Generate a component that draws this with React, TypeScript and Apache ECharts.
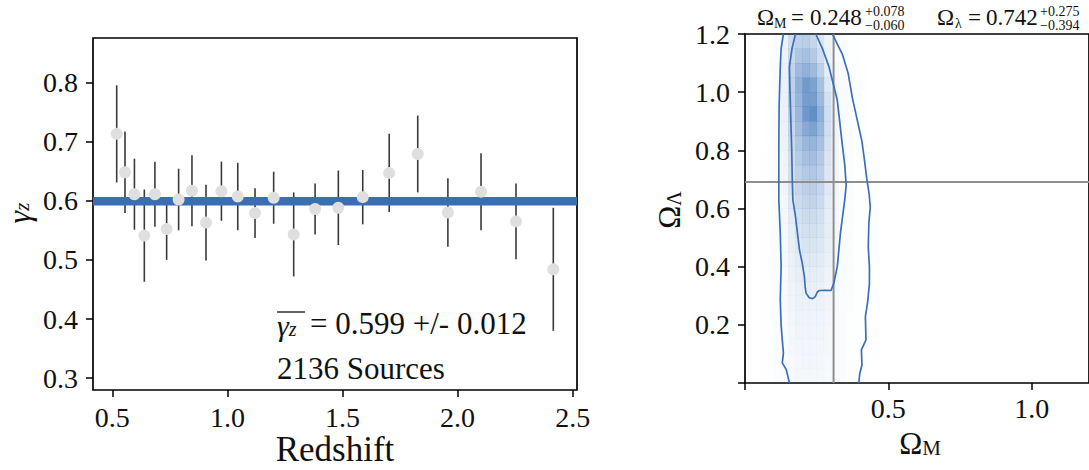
import { useEffect, useRef } from "react";
import * as echarts from "echarts";

const SERIF = "'Liberation Serif', 'Times New Roman', Times, serif";

// ---- Left panel: gamma_z per redshift bin ----
const redshift = [0.519, 0.555, 0.596, 0.639, 0.685, 0.736, 0.788, 0.846, 0.907, 0.974, 1.045, 1.12, 1.201, 1.288, 1.381, 1.482, 1.588, 1.703, 1.827, 1.958, 2.102, 2.254, 2.416];
const gammaZ = [0.713, 0.648, 0.611, 0.541, 0.611, 0.552, 0.602, 0.617, 0.563, 0.616, 0.607, 0.579, 0.605, 0.543, 0.586, 0.588, 0.606, 0.647, 0.679, 0.58, 0.615, 0.565, 0.484];
const gammaErr = [0.082, 0.069, 0.06, 0.078, 0.055, 0.052, 0.052, 0.06, 0.064, 0.05, 0.057, 0.042, 0.044, 0.071, 0.043, 0.063, 0.046, 0.066, 0.065, 0.058, 0.065, 0.064, 0.104];
const gammaMean = 0.599;
const gammaMeanErr = 0.012;
const sourceCount = 2136;
const redshiftRange = [0.416, 2.519];
const gammaRange = [0.28, 0.875];
const redshiftTicks = [0.5, 1.0, 1.5, 2.0, 2.5];
const gammaTicks = [0.3, 0.4, 0.5, 0.6, 0.7, 0.8];

// ---- Right panel: Omega_M / Omega_Lambda posterior ----
const omegaMRange = [0, 1.2];
const omegaLRange = [0, 1.2];
const omegaMTicks = [0, 0.5, 1.0];
const omegaMTickLabels = [0.5, 1.0];
const omegaLTicks = [0, 0.2, 0.4, 0.6, 0.8, 1.0, 1.2];
const omegaLTickLabels = [0.2, 0.4, 0.6, 0.8, 1.0, 1.2];
const omegaMRef = 0.309;
const omegaLRef = 0.691;
const omegaMFit = { value: "0.248", plus: "+0.078", minus: "\u22120.060" };
const omegaLFit = { value: "0.742", plus: "+0.275", minus: "\u22120.394" };

// density cell centres (cell size 0.025 x 0.05)
const omegaMCenters = [0.0125, 0.0375, 0.0625, 0.0875, 0.1125, 0.1375, 0.1625, 0.1875, 0.2125, 0.2375, 0.2625, 0.2875, 0.3125, 0.3375, 0.3625, 0.3875, 0.4125, 0.4375];
const omegaLCenters = [1.175, 1.125, 1.075, 1.025, 0.975, 0.925, 0.875, 0.825, 0.775, 0.725, 0.675, 0.625, 0.575, 0.525, 0.475, 0.425, 0.375, 0.325, 0.275, 0.225, 0.175, 0.125, 0.075, 0.025];
// relative posterior density (0-100), one row per omegaLCenters entry
const density = [
  [0, 0, 0, 1, 3, 9, 24, 32, 34, 29, 18, 8, 3, 2, 1, 1, 0, 0],
  [0, 0, 0, 1, 3, 9, 27, 40, 44, 38, 24, 10, 3, 2, 1, 1, 0, 0],
  [0, 0, 0, 1, 3, 10, 30, 48, 54, 48, 32, 13, 4, 2, 1, 1, 1, 0],
  [0, 0, 0, 1, 3, 10, 32, 55, 70, 64, 44, 17, 5, 2, 2, 1, 1, 0],
  [0, 0, 0, 1, 3, 10, 32, 52, 68, 68, 48, 21, 6, 3, 2, 1, 1, 0],
  [0, 0, 0, 1, 3, 10, 30, 50, 72, 78, 55, 23, 7, 3, 2, 1, 1, 0],
  [0, 0, 0, 1, 3, 10, 28, 46, 60, 64, 50, 23, 7, 3, 2, 1, 1, 0],
  [0, 0, 0, 1, 3, 9, 26, 40, 50, 52, 43, 21, 7, 3, 2, 1, 1, 0],
  [0, 0, 1, 1, 3, 8, 23, 36, 44, 45, 38, 19, 7, 3, 2, 1, 1, 0],
  [0, 0, 1, 1, 3, 7, 21, 32, 38, 39, 33, 17, 7, 3, 2, 1, 1, 0],
  [0, 0, 1, 1, 3, 7, 19, 28, 33, 34, 29, 16, 7, 3, 2, 1, 1, 0],
  [0, 0, 1, 1, 3, 6, 16, 25, 29, 30, 26, 14, 6, 3, 2, 1, 1, 0],
  [0, 0, 1, 1, 3, 6, 14, 22, 25, 26, 22, 13, 6, 3, 2, 1, 1, 0],
  [0, 0, 1, 1, 3, 5, 12, 19, 22, 22, 19, 12, 6, 3, 2, 1, 1, 0],
  [0, 0, 1, 1, 3, 5, 11, 16, 19, 19, 17, 11, 5, 3, 2, 1, 1, 0],
  [0, 0, 1, 1, 2, 5, 10, 14, 16, 16, 14, 10, 5, 3, 2, 1, 1, 0],
  [0, 0, 1, 1, 2, 4, 9, 12, 13, 13, 12, 8, 5, 3, 2, 1, 1, 0],
  [0, 0, 1, 1, 2, 4, 8, 10, 11, 11, 10, 7, 4, 3, 2, 1, 1, 0],
  [0, 0, 1, 1, 2, 4, 7, 9, 9, 9, 9, 7, 4, 2, 2, 1, 1, 0],
  [0, 0, 1, 1, 2, 3, 6, 8, 8, 8, 8, 6, 3, 2, 1, 1, 1, 0],
  [0, 0, 1, 1, 2, 3, 5, 7, 7, 7, 7, 5, 3, 2, 1, 1, 1, 0],
  [0, 0, 1, 1, 2, 3, 5, 6, 6, 6, 6, 5, 3, 2, 1, 1, 1, 0],
  [0, 0, 1, 1, 2, 3, 4, 5, 6, 6, 5, 4, 3, 2, 1, 1, 1, 0],
  [0, 0, 1, 1, 2, 3, 4, 5, 5, 5, 5, 4, 3, 2, 1, 1, 1, 0],
];
const cellHalfW = 0.0125;
const cellHalfH = 0.025;

// credible-region contours [Omega_M, Omega_Lambda]
const innerContour = [
  [0.176, 1.2], [0.164, 1.15], [0.155, 1.087], [0.157, 1.0], [0.16, 0.9], [0.163, 0.8], [0.165, 0.697], [0.167, 0.63],
  [0.176, 0.573], [0.19, 0.458], [0.2, 0.41], [0.207, 0.367], [0.21, 0.33], [0.213, 0.309], [0.224, 0.293], [0.236, 0.29],
  [0.245, 0.297], [0.252, 0.312], [0.259, 0.318], [0.28, 0.319], [0.3, 0.318], [0.31, 0.344], [0.322, 0.401],
  [0.333, 0.516], [0.348, 0.63], [0.353, 0.68], [0.348, 0.75], [0.339, 0.823], [0.322, 0.972], [0.293, 1.087],
  [0.27, 1.15], [0.247, 1.2],
];
const outerLeft = [
  [0.134, 1.2], [0.126, 1.15], [0.123, 1.087], [0.119, 0.95], [0.118, 0.8], [0.118, 0.63], [0.123, 0.516],
  [0.126, 0.401], [0.123, 0.287], [0.126, 0.2], [0.13, 0.149], [0.134, 0.103], [0.13, 0.069], [0.144, 0.046], [0.155, 0.0],
];
const outerRight = [
  [0.305, 1.2], [0.322, 1.165], [0.339, 1.132], [0.36, 1.064], [0.374, 0.983], [0.397, 0.88], [0.408, 0.83],
  [0.417, 0.765], [0.425, 0.7], [0.433, 0.65], [0.437, 0.605], [0.432, 0.55], [0.43, 0.468], [0.434, 0.4],
  [0.434, 0.342], [0.428, 0.28], [0.42, 0.228], [0.422, 0.148], [0.406, 0.114], [0.408, 0.063], [0.4, 0.03], [0.397, 0.0],
];

const BLUE = "#3a6db1";
const CONTOUR = "#3b70b9";
const REF_GRAY = "#8e8e8e";

function tickAxis(
  gridIndex: number,
  range: number[],
  ticks: number[],
  labels: number[],
  margin: number
) {
  return {
    type: "value",
    gridIndex,
    min: range[0],
    max: range[1],
    axisLine: { show: false },
    splitLine: { show: false },
    axisTick: {
      show: true,
      inside: false,
      length: 7,
      customValues: ticks,
      lineStyle: { color: "#000", width: 1.5 },
    },
    axisLabel: {
      customValues: labels,
      formatter: (v: number) => v.toFixed(1),
      fontFamily: SERIF,
      fontSize: 28,
      color: "#111",
      margin,
    },
  };
}

function txt(x: number, y: number, text: string, fontSize: number, extra: any = {}) {
  return {
    type: "text",
    x,
    y,
    silent: true,
    style: {
      text,
      fontFamily: SERIF,
      fontSize,
      fill: "#111",
      textAlign: "left",
      textVerticalAlign: "middle",
      ...extra,
    },
  };
}

export default function App() {
  const ref = useRef<HTMLDivElement>(null);

  useEffect(() => {
    if (!ref.current) return;
    const chart = echarts.init(ref.current, undefined, { renderer: "svg" });

    const points = redshift.map((z, i) => [z, gammaZ[i]]);
    const bars = redshift.map((z, i) => [z, gammaZ[i], gammaErr[i]]);

    const cells: number[][] = [];
    density.forEach((row, r) => {
      row.forEach((v, c) => {
        if (v > 0) cells.push([omegaMCenters[c], omegaLCenters[r], v]);
      });
    });

    const option: any = {
      animation: false,
      backgroundColor: "#fff",
      grid: [
        { left: 93, top: 38, width: 484, height: 352, show: true, borderColor: "#000", borderWidth: 1.7, backgroundColor: "transparent" },
        { left: 745, top: 34, width: 348, height: 349, show: true, borderColor: "#000", borderWidth: 1.7, backgroundColor: "transparent" },
      ],
      xAxis: [
        tickAxis(0, redshiftRange, redshiftTicks, redshiftTicks, 13),
        tickAxis(1, omegaMRange, omegaMTicks, omegaMTickLabels, 11),
      ],
      yAxis: [
        tickAxis(0, gammaRange, gammaTicks, gammaTicks, 15),
        tickAxis(1, omegaLRange, omegaLTicks, omegaLTickLabels, 15),
      ],
      series: [
        {
          type: "custom",
          xAxisIndex: 0,
          yAxisIndex: 0,
          z: 1,
          silent: true,
          encode: { x: 0, y: 1 },
          data: bars,
          renderItem: (_p: any, api: any) => {
            const x = api.value(0);
            const y = api.value(1);
            const e = api.value(2);
            const a = api.coord([x, y - e]);
            const b = api.coord([x, y + e]);
            return {
              type: "line",
              shape: { x1: a[0], y1: a[1], x2: b[0], y2: b[1] },
              style: { stroke: "#3a3a3a", lineWidth: 1.6 },
            };
          },
        },
        {
          type: "line",
          xAxisIndex: 0,
          yAxisIndex: 0,
          z: 2,
          silent: true,
          symbol: "none",
          data: [[redshiftRange[0], gammaMean], [redshiftRange[1], gammaMean]],
          lineStyle: { color: BLUE, width: 8.5, cap: "butt" },
        },
        {
          type: "scatter",
          xAxisIndex: 0,
          yAxisIndex: 0,
          z: 3,
          silent: true,
          symbolSize: 12,
          itemStyle: { color: "#dfdfdf", opacity: 1 },
          data: points,
        },
        {
          type: "custom",
          xAxisIndex: 1,
          yAxisIndex: 1,
          z: 1,
          silent: true,
          clip: true,
          encode: { x: 0, y: 1 },
          data: cells,
          renderItem: (_p: any, api: any) => {
            const cx = api.value(0);
            const cy = api.value(1);
            const v = api.value(2);
            const a = api.coord([cx - cellHalfW, cy + cellHalfH]);
            const b = api.coord([cx + cellHalfW, cy - cellHalfH]);
            return {
              type: "rect",
              shape: { x: a[0], y: a[1], width: b[0] - a[0] + 0.3, height: b[1] - a[1] + 0.3 },
              style: { fill: `rgba(44,104,180,${(v / 100) * 0.95})` },
            };
          },
        },
        {
          type: "line",
          xAxisIndex: 1,
          yAxisIndex: 1,
          z: 2,
          silent: true,
          symbol: "none",
          data: [[omegaMRef, omegaLRange[0]], [omegaMRef, omegaLRange[1]]],
          lineStyle: { color: REF_GRAY, width: 2 },
        },
        {
          type: "line",
          xAxisIndex: 1,
          yAxisIndex: 1,
          z: 2,
          silent: true,
          symbol: "none",
          data: [[omegaMRange[0], omegaLRef], [omegaMRange[1], omegaLRef]],
          lineStyle: { color: REF_GRAY, width: 2 },
        },
        ...[innerContour, outerLeft, outerRight].map((c) => ({
          type: "line",
          xAxisIndex: 1,
          yAxisIndex: 1,
          z: 3,
          silent: true,
          symbol: "none",
          data: c,
          lineStyle: { color: CONTOUR, width: 1.7 },
        })),
      ],
      graphic: [
        // left panel labels
        txt(335, 449, "Redshift", 35, { textAlign: "center" }),
        {
          type: "text",
          x: 19,
          y: 213,
          rotation: Math.PI / 2,
          silent: true,
          style: {
            text: "{g|\u03b3}{s|z}",
            textAlign: "center",
            textVerticalAlign: "middle",
            rich: {
              g: { fontFamily: SERIF, fontSize: 32, fontStyle: "italic", fill: "#111", lineHeight: 26 },
              s: { fontFamily: SERIF, fontSize: 21, fontStyle: "italic", fill: "#111", lineHeight: 16, verticalAlign: "bottom" },
            },
          },
        },
        { type: "line", silent: true, shape: { x1: 277, y1: 312, x2: 305, y2: 312 }, style: { stroke: "#111", lineWidth: 1.3 } },
        {
          type: "text",
          x: 277,
          y: 325,
          silent: true,
          style: {
            text: "{g|\u03b3}{s|z}",
            textAlign: "left",
            textVerticalAlign: "middle",
            rich: {
              g: { fontFamily: SERIF, fontSize: 30, fontStyle: "italic", fill: "#111", lineHeight: 28 },
              s: { fontFamily: SERIF, fontSize: 20, fontStyle: "italic", fill: "#111", lineHeight: 18, verticalAlign: "bottom" },
            },
          },
        },
        txt(310, 323, `= ${gammaMean.toFixed(3)} +/- ${gammaMeanErr.toFixed(3)}`, 31),
        txt(277, 368, `${sourceCount} Sources`, 31),

        // right panel labels
        {
          type: "text",
          x: 920,
          y: 443,
          silent: true,
          style: {
            text: "{o|\u03a9}{s|M}",
            textAlign: "center",
            textVerticalAlign: "middle",
            rich: {
              o: { fontFamily: SERIF, fontSize: 31, fill: "#111", lineHeight: 30 },
              s: { fontFamily: SERIF, fontSize: 21, fill: "#111", lineHeight: 20, verticalAlign: "bottom" },
            },
          },
        },
        {
          type: "text",
          x: 669,
          y: 210,
          rotation: Math.PI / 2,
          silent: true,
          style: {
            text: "{o|\u03a9}{s|\u039b}",
            textAlign: "center",
            textVerticalAlign: "middle",
            rich: {
              o: { fontFamily: SERIF, fontSize: 31, fill: "#111", lineHeight: 30 },
              s: { fontFamily: SERIF, fontSize: 20, fill: "#111", lineHeight: 20, verticalAlign: "bottom" },
            },
          },
        },

        // posterior summary above the right panel
        txt(757, 17, "\u03a9", 23),
        txt(774, 23, "M", 14),
        txt(791, 17, "=", 23),
        txt(810, 17, omegaMFit.value, 23),
        txt(865, 11, omegaMFit.plus, 14),
        txt(865, 25, omegaMFit.minus, 14),
        txt(937, 17, "\u03a9", 23),
        txt(955, 23, "\u03bb", 14),
        txt(968, 17, "=", 23),
        txt(986, 17, omegaLFit.value, 23),
        txt(1040, 11, omegaLFit.plus, 14),
        txt(1040, 25, omegaLFit.minus, 14),
      ],
    };

    chart.setOption(option);
    return () => chart.dispose();
  }, []);

  return (
    <div
      ref={ref}
      style={{ position: "fixed", left: 0, top: 0, width: 1089, height: 470, background: "#fff" }}
    />
  );
}
